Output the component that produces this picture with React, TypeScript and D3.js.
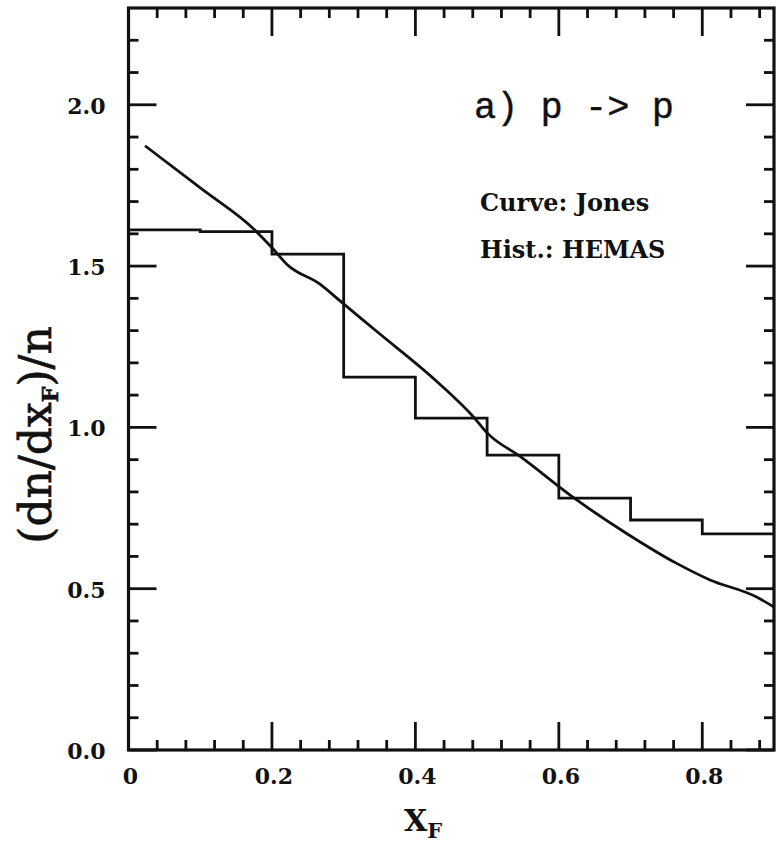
import React from "react";
import * as d3 from "d3";

// Histogram (HEMAS): bin edges and heights
const binEdges = [0, 0.1, 0.2, 0.3, 0.4, 0.5, 0.6, 0.7, 0.8, 0.9];
const histValues = [1.612, 1.607, 1.537, 1.156, 1.029, 0.914, 0.781, 0.713, 0.67];

// Curve (Jones)
const curveX = [0.023, 0.102, 0.175, 0.202, 0.221, 0.267, 0.295, 0.348, 0.431, 0.482, 0.5, 0.546, 0.625, 0.694, 0.763, 0.81, 0.875, 0.9];
const curveY = [1.873, 1.739, 1.614, 1.552, 1.505, 1.444, 1.392, 1.294, 1.14, 1.03, 0.983, 0.91, 0.775, 0.672, 0.58, 0.528, 0.475, 0.443];

const xTickValues = [0, 0.2, 0.4, 0.6, 0.8];
const xTickLabels = ["0", "0.2", "0.4", "0.6", "0.8"];
const yTickValues = [0, 0.5, 1.0, 1.5, 2.0];
const yTickLabels = ["0.0", "0.5", "1.0", "1.5", "2.0"];

export default function App() {
  const W = 778;
  const H = 844;
  const L = 128.5, R = 774, T = 8, B = 750;
  const x = d3.scaleLinear().domain([0, 0.9]).range([L, R]);
  const y = d3.scaleLinear().domain([0, 2.3]).range([B, T]);

  const histPts: [number, number][] = histValues.map((v, i) => [binEdges[i], v]);
  histPts.push([binEdges[binEdges.length - 1], histValues[histValues.length - 1]]);
  const histLine = d3
    .line<[number, number]>()
    .x((d) => x(d[0]))
    .y((d) => y(d[1]))
    .curve(d3.curveStepAfter);

  const curvePts: [number, number][] = curveX.map((v, i) => [v, curveY[i]]);
  const curveLine = d3
    .line<[number, number]>()
    .x((d) => x(d[0]))
    .y((d) => y(d[1]))
    .curve(d3.curveMonotoneX);

  const xMinor = d3.range(1, 23).filter((i) => i % 5 !== 0).map((i) => i * 0.04);
  const yMinor = d3.range(1, 23).filter((i) => i % 5 !== 0).map((i) => i * 0.1);
  const major = 28;
  const minor = 10;
  const sw = 2.8;
  const ink = "#111";

  return (
    <svg
      width={W}
      height={H}
      viewBox={`0 0 ${W} ${H}`}
      style={{ position: "absolute", left: 0, top: 0, background: "#fff" }}
    >
      <rect x={0} y={0} width={W} height={H} fill="#fff" />
      {/* ticks */}
      <g stroke={ink} strokeWidth={sw}>
        {xTickValues.map((v) => (
          <g key={"xm" + v}>
            <line x1={x(v)} x2={x(v)} y1={B} y2={B - major} />
            <line x1={x(v)} x2={x(v)} y1={T} y2={T + major} />
          </g>
        ))}
        {xMinor.map((v) => (
          <g key={"xn" + v}>
            <line x1={x(v)} x2={x(v)} y1={B} y2={B - minor} />
            <line x1={x(v)} x2={x(v)} y1={T} y2={T + minor} />
          </g>
        ))}
        {yTickValues.map((v) => (
          <g key={"ym" + v}>
            <line x1={L} x2={L + major} y1={y(v)} y2={y(v)} />
            <line x1={R} x2={R - major} y1={y(v)} y2={y(v)} />
          </g>
        ))}
        {yMinor.map((v) => (
          <g key={"yn" + v}>
            <line x1={L} x2={L + minor} y1={y(v)} y2={y(v)} />
            <line x1={R} x2={R - minor} y1={y(v)} y2={y(v)} />
          </g>
        ))}
      </g>
      {/* frame */}
      <rect x={L} y={T} width={R - L} height={B - T} fill="none" stroke={ink} strokeWidth={3.2} />
      {/* histogram */}
      <path d={histLine(histPts) || ""} fill="none" stroke={ink} strokeWidth={2.8} />
      {/* curve */}
      <path d={curveLine(curvePts) || ""} fill="none" stroke={ink} strokeWidth={2.8} />

      {/* tick labels */}
      <g fontFamily="DejaVu Serif" fontWeight="bold" fontSize={22} fill={ink}>
        {yTickValues.map((v, i) => (
          <text key={"yl" + v} x={L - 23} y={y(v) + 9} textAnchor="end">
            {yTickLabels[i]}
          </text>
        ))}
        {xTickValues.map((v, i) => (
          <text key={"xl" + v} x={x(v) + 2} y={784} textAnchor="middle">
            {xTickLabels[i]}
          </text>
        ))}
      </g>

      {/* axis titles */}
      <text x={404} y={831} fontFamily="DejaVu Serif" fontWeight="bold" fontSize={30} fill={ink}>
        X
        <tspan dy={7} fontSize={21}>F</tspan>
      </text>
      <text
        transform="translate(51,435) rotate(-90)"
        textAnchor="middle"
        fontFamily="DejaVu Serif"
        fontSize={44}
        fill={ink}
        stroke={ink}
        strokeWidth={0.6}
      >
        (dn/dx
        <tspan dy={7} fontSize={22} fontWeight="bold">F</tspan>
        <tspan dy={-7}>)/n</tspan>
      </text>

      {/* annotations */}
      <text x={474} y={118} fontFamily="Liberation Mono" fontSize={37} fill={ink} stroke={ink} strokeWidth={0.4} xmlSpace="preserve">
        a) p -&gt; p
      </text>
      <text x={480} y={211} fontFamily="DejaVu Serif" fontWeight="bold" fontSize={24} fill={ink}>
        Curve: Jones
      </text>
      <text x={480} y={258} fontFamily="DejaVu Serif" fontWeight="bold" fontSize={24} fill={ink}>
        Hist.: HEMAS
      </text>
    </svg>
  );
}
